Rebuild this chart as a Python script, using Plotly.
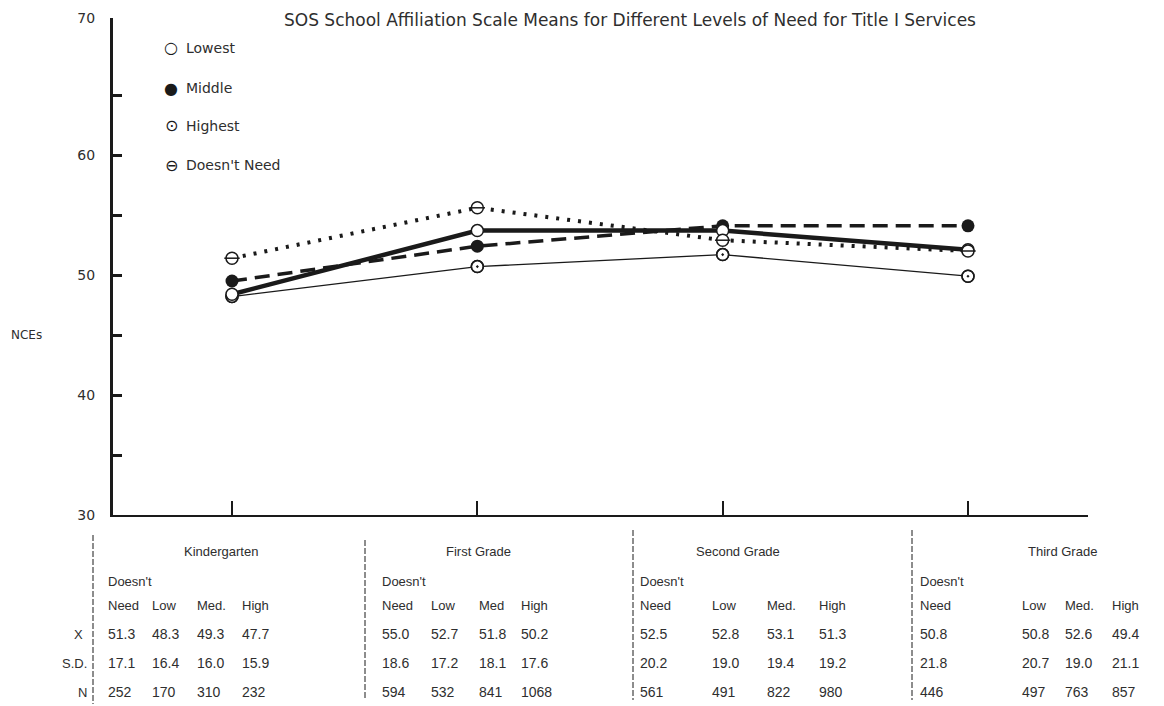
import plotly.graph_objects as go

# ---------------- data ----------------
GRADES = ["Kindergarten", "First Grade", "Second Grade", "Third Grade"]
SERIES = ["Lowest", "Middle", "Highest", "Doesn't Need"]

# plotted NCE means
LOWEST = [48.4, 53.7, 53.7, 52.1]
MIDDLE = [49.5, 52.4, 54.1, 54.1]
HIGHEST = [48.2, 50.7, 51.7, 49.9]
DOESNT_NEED = [51.4, 55.6, 52.9, 52.0]

Y_TICK_VALUES = [30, 35, 40, 45, 50, 55, 60, 65]
Y_TICK_LABELS = ["30", "", "40", "", "50", "", "60", ""]
Y_TOP_LABEL = "70"

# table below the graph
TABLE_HEADERS = [
    ["Need", "Low", "Med.", "High"],
    ["Need", "Low", "Med", "High"],
    ["Need", "Low", "Med.", "High"],
    ["Need", "Low", "Med.", "High"],
]
ROW_LABELS = ["X", "S.D.", "N"]
MEANS = [
    ["51.3", "48.3", "49.3", "47.7"],
    ["55.0", "52.7", "51.8", "50.2"],
    ["52.5", "52.8", "53.1", "51.3"],
    ["50.8", "50.8", "52.6", "49.4"],
]
SDS = [
    ["17.1", "16.4", "16.0", "15.9"],
    ["18.6", "17.2", "18.1", "17.6"],
    ["20.2", "19.0", "19.4", "19.2"],
    ["21.8", "20.7", "19.0", "21.1"],
]
NS = [
    ["252", "170", "310", "232"],
    ["594", "532", "841", "1068"],
    ["561", "491", "822", "980"],
    ["446", "497", "763", "857"],
]

TITLE = "SOS School Affiliation Scale Means for Different Levels of Need for Title I Services"

# ---------------- layout geometry (page pixels) ----------------
OFF = 8                      # browser body margin
PAGE_W, PAGE_H = 1164, 706
W, H = PAGE_W - OFF, PAGE_H - OFF
PLOT_X0, PLOT_X1 = 113, 1088   # page px
PLOT_Y0, PLOT_Y1 = 18, 515     # page px
L = PLOT_X0 - OFF
T = PLOT_Y0 - OFF
R = W - (PLOT_X1 - OFF)
B = H - (PLOT_Y1 - OFF)
PW, PH = PLOT_X1 - PLOT_X0, PLOT_Y1 - PLOT_Y0
Y_MIN = 30
Y_MAX = Y_MIN + PH / 12.0
X_RANGE = [-(232 - PLOT_X0) / 245.33, -(232 - PLOT_X0) / 245.33 + PW / 245.33]

INK = "#1a1a1a"
TXT = "#2e2e2e"
FONT = "Liberation Sans, Arial, sans-serif"
WIDE = "DejaVu Sans, sans-serif"


def px(x):
    return (x - PLOT_X0) / PW


def py(y):
    return (PLOT_Y1 - y) / PH


xs = list(range(len(GRADES)))
fig = go.Figure()

# Doesn't Need : dotted line
fig.add_trace(go.Scatter(x=xs, y=DOESNT_NEED, mode="lines", name=SERIES[3],
                         line=dict(color=INK, width=4, dash="3px,8px"), showlegend=False))
# Middle : dashed line
fig.add_trace(go.Scatter(x=xs, y=MIDDLE, mode="lines", name=SERIES[1],
                         line=dict(color=INK, width=3.5, dash="15px,8px"), showlegend=False))
# Highest : thin solid
fig.add_trace(go.Scatter(x=xs, y=HIGHEST, mode="lines", name=SERIES[2],
                         line=dict(color=INK, width=1.3), showlegend=False))
# Lowest : thick solid
fig.add_trace(go.Scatter(x=xs, y=LOWEST, mode="lines", name=SERIES[0],
                         line=dict(color=INK, width=4.5), showlegend=False))

# markers
fig.add_trace(go.Scatter(x=xs, y=MIDDLE, mode="markers", showlegend=False,
                         marker=dict(symbol="circle", size=13, color=INK)))
fig.add_trace(go.Scatter(x=xs, y=HIGHEST, mode="markers", showlegend=False,
                         marker=dict(symbol="circle", size=12, color="white",
                                     line=dict(color=INK, width=1.5))))
fig.add_trace(go.Scatter(x=xs, y=HIGHEST, mode="markers", showlegend=False,
                         marker=dict(symbol="circle-open-dot", size=12, color=INK,
                                     line=dict(color=INK, width=1.5))))
fig.add_trace(go.Scatter(x=xs, y=LOWEST, mode="markers", showlegend=False,
                         marker=dict(symbol="circle", size=12, color="white",
                                     line=dict(color=INK, width=1.5))))
fig.add_trace(go.Scatter(x=xs, y=DOESNT_NEED, mode="markers", showlegend=False,
                         marker=dict(symbol="circle", size=12, color="white",
                                     line=dict(color=INK, width=1.5))))
fig.add_trace(go.Scatter(x=xs, y=DOESNT_NEED, mode="markers", showlegend=False,
                         marker=dict(symbol="line-ew", size=11, color=INK,
                                     line=dict(color=INK, width=1.5))))

annotations = []

# title
annotations.append(dict(text=TITLE, x=px(630), y=py(20), xref="paper", yref="paper",
                        showarrow=False, xanchor="center", yanchor="middle",
                        font=dict(size=17, color=TXT, family=WIDE)))

# legend (text with symbols)
LEGEND_SYMBOLS = ["○", "●", "⊙", "⊖"]
LEGEND_Y = [48, 88, 126, 165]
for sym, name, yy in zip(LEGEND_SYMBOLS, SERIES, LEGEND_Y):
    annotations.append(dict(text=sym, x=px(171), y=py(yy), xref="paper", yref="paper",
                            showarrow=False, xanchor="center", yanchor="middle",
                            font=dict(size=16, color=INK, family=WIDE)))
    annotations.append(dict(text=name, x=px(184), y=py(yy), xref="paper", yref="paper",
                            showarrow=False, xanchor="left", yanchor="middle",
                            font=dict(size=14, color=TXT, family=WIDE)))

# y-axis title
annotations.append(dict(text="NCEs", x=px(26), y=py(335), xref="paper", yref="paper",
                        showarrow=False, xanchor="center", yanchor="middle",
                        font=dict(size=12, color=TXT, family=WIDE)))

# table
COL_X = [
    [106, 150, 195, 240],
    [380, 429, 477, 519],
    [638, 710, 765, 817],
    [918, 1020, 1063, 1110],
]
HEADER_X = [221, 478, 738, 1062]
ROW_Y = {"grade": 551, "doesnt": 582, "head": 605, "rows": [634, 663, 692]}
ROW_LABEL_X = [78, 74, 82]

for g, grade in enumerate(GRADES):
    annotations.append(dict(text=grade, x=px(HEADER_X[g]), y=py(ROW_Y["grade"]),
                            xref="paper", yref="paper", showarrow=False,
                            xanchor="center", yanchor="middle",
                            font=dict(size=13, color=TXT, family=FONT)))
    annotations.append(dict(text="Doesn't", x=px(COL_X[g][0]), y=py(ROW_Y["doesnt"]),
                            xref="paper", yref="paper", showarrow=False,
                            xanchor="left", yanchor="middle",
                            font=dict(size=13, color=TXT, family=FONT)))
    for c in range(4):
        annotations.append(dict(text=TABLE_HEADERS[g][c], x=px(COL_X[g][c]), y=py(ROW_Y["head"]),
                                xref="paper", yref="paper", showarrow=False,
                                xanchor="left", yanchor="middle",
                                font=dict(size=13, color=TXT, family=FONT)))
        for r, rows in enumerate([MEANS, SDS, NS]):
            annotations.append(dict(text=rows[g][c], x=px(COL_X[g][c]), y=py(ROW_Y["rows"][r]),
                                    xref="paper", yref="paper", showarrow=False,
                                    xanchor="left", yanchor="middle",
                                    font=dict(size=14, color=TXT, family=FONT)))

for r, lab in enumerate(ROW_LABELS):
    annotations.append(dict(text=lab, x=px(ROW_LABEL_X[r]), y=py(ROW_Y["rows"][r]),
                            xref="paper", yref="paper", showarrow=False,
                            xanchor="center", yanchor="middle",
                            font=dict(size=13, color=TXT, family=FONT)))

shapes = []
SEP = [(93, 535, 704), (365, 540, 700), (633, 530, 700), (912, 530, 700)]
for sx, y0, y1 in SEP:
    shapes.append(dict(type="line", xref="paper", yref="paper",
                       x0=px(sx), x1=px(sx), y0=py(y0), y1=py(y1),
                       line=dict(color=INK, width=1, dash="6px,2px")))

fig.update_layout(
    width=W, height=H,
    margin=dict(l=L, r=R, t=T, b=B, autoexpand=False),
    paper_bgcolor="white", plot_bgcolor="white",
    showlegend=False,
    annotations=annotations,
    shapes=shapes,
    xaxis=dict(range=X_RANGE, showgrid=False, zeroline=False, automargin=False,
               showline=True, linecolor=INK, linewidth=2,
               tickvals=xs, ticktext=["" for _ in GRADES],
               ticks="inside", ticklen=14, tickwidth=2, tickcolor=INK),
    yaxis=dict(range=[Y_MIN, Y_MAX], showgrid=False, zeroline=False, automargin=False,
               showline=True, linecolor=INK, linewidth=3,
               tickvals=Y_TICK_VALUES + [Y_MAX - 0.03],
               ticktext=Y_TICK_LABELS + [Y_TOP_LABEL],
               ticks="inside", ticklen=9, tickwidth=2.5, tickcolor=INK,
               ticklabelstandoff=12,
               tickfont=dict(size=14, color=TXT, family=WIDE)),
)

fig.write_html("out.html")
